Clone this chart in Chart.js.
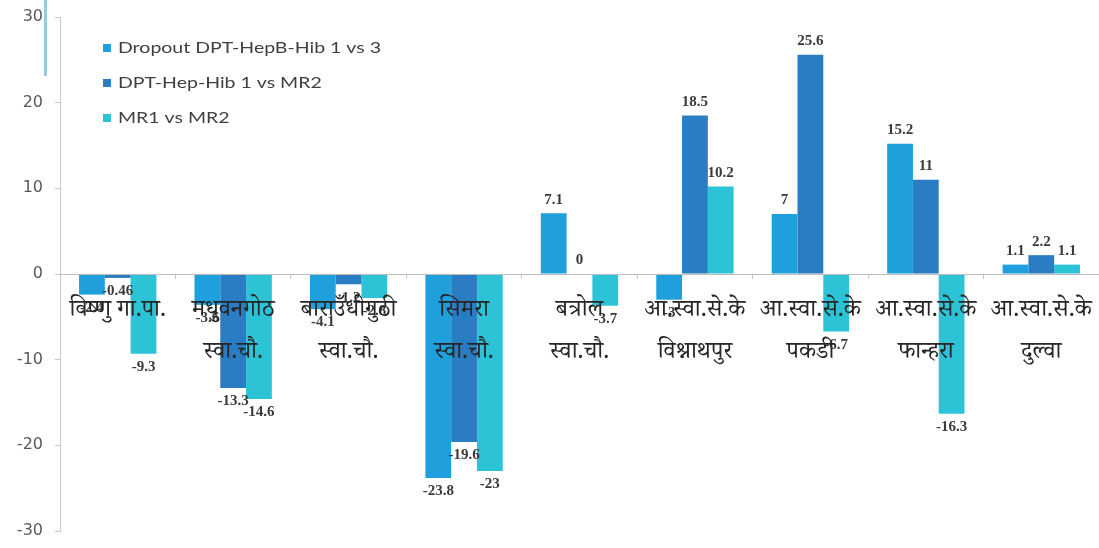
<!DOCTYPE html>
<html>
<head>
<meta charset="utf-8">
<script src="https://cdn.jsdelivr.net/npm/chart.js@4.4.1/dist/chart.umd.min.js"></script>
<style>
  html, body { margin: 0; padding: 0; background: #ffffff; }
  #wrap { position: relative; width: 1099px; height: 548px; }
  #accent { position: absolute; left: 44px; top: 0; width: 3px; height: 76px; background: #9cc9de; }
</style>
</head>
<body>
<div id="wrap">
  <canvas id="c" width="1099" height="548"></canvas>
  <div id="accent"></div>
</div>
<script>
// Health facilities (two-line labels)
const categories = [
  ['विष्णु गा.पा.'],
  ['मधुवनगोठ', 'स्वा.चौ.'],
  ['बाराउँधीगुठी', 'स्वा.चौ.'],
  ['सिमरा', 'स्वा.चौ.'],
  ['बत्रोल', 'स्वा.चौ.'],
  ['आ.स्वा.से.के', 'विश्नाथपुर'],
  ['आ.स्वा.से.के', 'पकडी'],
  ['आ.स्वा.से.के', 'फान्हरा'],
  ['आ.स्वा.से.के', 'दुल्वा']
];

const seriesNames = ['Dropout DPT-HepB-Hib 1 vs 3', 'DPT-Hep-Hib 1 vs MR2', 'MR1 vs MR2'];

// Dropout rates (%)
const dptHepbHib1vs3 = [-2.4, -3.6, -4.1, -23.8, 7.1, -3, 7, 15.2, 1.1];
const dptHepHib1vsMr2 = [-0.46, -13.3, -1.2, -19.6, 0, 18.5, 25.6, 11, 2.2];
const mr1vsMr2 = [-9.3, -14.6, -2.8, -23, -3.7, 10.2, -6.7, -16.3, 1.1];

const yTicks = [-30, -20, -10, 0, 10, 20, 30];

const seriesColors = ['#1fa0dc', '#2a7cc3', '#2cc3d6'];

// Value labels drawn at the end of each bar
const valueLabels = {
  id: 'valueLabels',
  afterDatasetsDraw(chart) {
    const ctx = chart.ctx;
    ctx.save();
    ctx.font = 'bold 15px "Liberation Serif", "DejaVu Serif", serif';
    ctx.fillStyle = '#3a3a3a';
    ctx.textAlign = 'center';
    chart.data.datasets.forEach((ds, di) => {
      const meta = chart.getDatasetMeta(di);
      meta.data.forEach((bar, i) => {
        const v = ds.data[i];
        if (v >= 0) {
          ctx.textBaseline = 'bottom';
          ctx.fillText(String(v), bar.x, bar.y - 6);
        } else {
          ctx.textBaseline = 'top';
          ctx.fillText(String(v), bar.x, bar.y + 6);
        }
      });
    });
    ctx.restore();
  }
};

// Vertical legend inside the plot area (wide lettering)
const insideLegend = {
  id: 'insideLegend',
  afterDraw(chart) {
    const ctx = chart.ctx;
    const left = chart.chartArea.left + 43;
    const top = chart.chartArea.top + 31;
    const stretch = 1.3;
    ctx.save();
    ctx.font = '15px "Lato", "Open Sans", sans-serif';
    ctx.textBaseline = 'middle';
    ctx.textAlign = 'left';
    chart.data.datasets.forEach((ds, i) => {
      const y = top + i * 35;
      ctx.fillStyle = ds.backgroundColor;
      ctx.fillRect(left, y - 4, 8, 8);
      ctx.save();
      ctx.translate(left + 15, y);
      ctx.scale(stretch, 1);
      ctx.fillStyle = '#404040';
      ctx.fillText(ds.label, 0, 0);
      ctx.restore();
    });
    ctx.restore();
  }
};

new Chart(document.getElementById('c'), {
  type: 'bar',
  data: {
    labels: categories,
    datasets: [
      { label: seriesNames[0], data: dptHepbHib1vs3, backgroundColor: seriesColors[0] },
      { label: seriesNames[1], data: dptHepHib1vsMr2, backgroundColor: seriesColors[1] },
      { label: seriesNames[2], data: mr1vsMr2, backgroundColor: seriesColors[2] }
    ]
  },
  options: {
    responsive: false,
    animation: false,
    layout: { padding: 0 },
    datasets: { bar: { barPercentage: 1, categoryPercentage: 0.67 } },
    plugins: {
      legend: { display: false },
      tooltip: { enabled: false }
    },
    scales: {
      x: {
        position: { y: 0 },
        afterFit(scale) {
          scale.paddingLeft = 0;
          scale.paddingRight = 0;
        },
        grid: { drawOnChartArea: false, drawTicks: true, tickLength: 4, color: '#c8c8c8', offset: true, z: 1 },
        border: { color: '#bdbdbd', width: 1, z: 1 },
        ticks: {
          z: 1,
          color: '#262626',
          padding: 15,
          maxRotation: 0,
          autoSkip: false,
          font: { family: '"Noto Serif Devanagari", "Noto Sans Devanagari", "Lohit Devanagari", serif', size: 24, lineHeight: 1.75 }
        }
      },
      y: {
        min: -30,
        max: 30,
        afterBuildTicks(scale) { scale.ticks = yTicks.map(v => ({ value: v })); },
        afterFit(scale) {
          scale.width = 60;
          scale.paddingTop = 17;
          scale.paddingBottom = 17;
        },
        grid: { drawOnChartArea: false, drawTicks: true, tickLength: 5, color: '#c8c8c8' },
        border: { color: '#c8c8c8', width: 1 },
        ticks: {
          color: '#595959',
          padding: 12,
          font: { family: '"DejaVu Sans", sans-serif', size: 16 }
        }
      }
    }
  },
  plugins: [valueLabels, insideLegend]
});
</script>
</body>
</html>
